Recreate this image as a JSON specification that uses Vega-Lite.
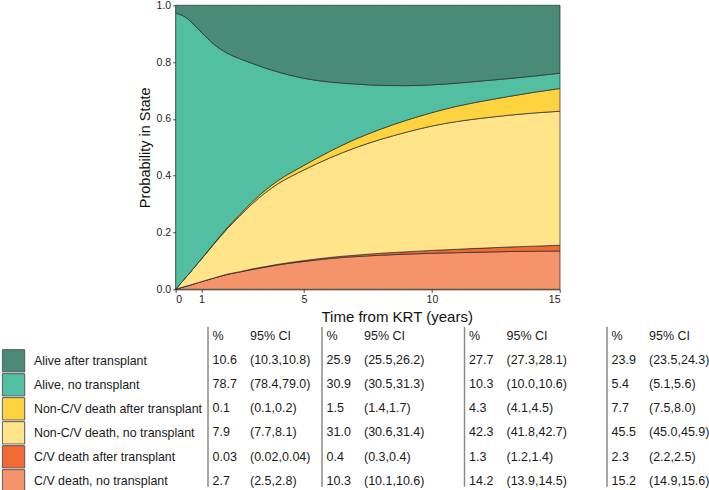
{
  "$schema": "https://vega.github.io/schema/vega-lite/v6.json",
  "width": 384.3,
  "height": 284,
  "autosize": {"type": "none"},
  "padding": {"left": 175.7, "top": 5.3, "right": 149, "bottom": 200.7},
  "background": "white",
  "config": {
    "view": {"stroke": null},
    "font": "Liberation Sans",
    "axis": {"labelFont": "Liberation Sans", "titleFont": "Liberation Sans", "grid": false},
    "legend": {"labelFont": "Liberation Sans"},
    "text": {"font": "Liberation Sans"}
  },
  "datasets": {
    "states": [
      {"k": 1, "state": "C/V death, no transplant"},
      {"k": 2, "state": "C/V death after transplant"},
      {"k": 3, "state": "Non-C/V death, no transplant"},
      {"k": 4, "state": "Non-C/V death after transplant"},
      {"k": 5, "state": "Alive, no transplant"},
      {"k": 6, "state": "Alive after transplant"}
    ],
    "curves": [
      {"t": 0, "k": 1, "p": 0}, {"t": 0, "k": 2, "p": 0}, {"t": 0, "k": 3, "p": 0}, {"t": 0, "k": 4, "p": 0}, {"t": 0, "k": 5, "p": 0.972}, {"t": 0, "k": 6, "p": 0.028},
      {"t": 0.25, "k": 1, "p": 0.007}, {"t": 0.25, "k": 2, "p": 0}, {"t": 0.25, "k": 3, "p": 0.02}, {"t": 0.25, "k": 4, "p": 0}, {"t": 0.25, "k": 5, "p": 0.938}, {"t": 0.25, "k": 6, "p": 0.035},
      {"t": 0.5, "k": 1, "p": 0.013}, {"t": 0.5, "k": 2, "p": 0}, {"t": 0.5, "k": 3, "p": 0.04}, {"t": 0.5, "k": 4, "p": 0}, {"t": 0.5, "k": 5, "p": 0.897}, {"t": 0.5, "k": 6, "p": 0.05},
      {"t": 0.75, "k": 1, "p": 0.02}, {"t": 0.75, "k": 2, "p": 0}, {"t": 0.75, "k": 3, "p": 0.06}, {"t": 0.75, "k": 4, "p": 0}, {"t": 0.75, "k": 5, "p": 0.848}, {"t": 0.75, "k": 6, "p": 0.072},
      {"t": 1, "k": 1, "p": 0.027}, {"t": 1, "k": 2, "p": 0}, {"t": 1, "k": 3, "p": 0.079}, {"t": 1, "k": 4, "p": 0.001}, {"t": 1, "k": 5, "p": 0.798}, {"t": 1, "k": 6, "p": 0.095},
      {"t": 1.5, "k": 1, "p": 0.04}, {"t": 1.5, "k": 2, "p": 0}, {"t": 1.5, "k": 3, "p": 0.12}, {"t": 1.5, "k": 4, "p": 0.002}, {"t": 1.5, "k": 5, "p": 0.7}, {"t": 1.5, "k": 6, "p": 0.138},
      {"t": 2, "k": 1, "p": 0.052}, {"t": 2, "k": 2, "p": 0.001}, {"t": 2, "k": 3, "p": 0.159}, {"t": 2, "k": 4, "p": 0.004}, {"t": 2, "k": 5, "p": 0.616}, {"t": 2, "k": 6, "p": 0.168},
      {"t": 2.5, "k": 1, "p": 0.061}, {"t": 2.5, "k": 2, "p": 0.001}, {"t": 2.5, "k": 3, "p": 0.196}, {"t": 2.5, "k": 4, "p": 0.005}, {"t": 2.5, "k": 5, "p": 0.549}, {"t": 2.5, "k": 6, "p": 0.188},
      {"t": 3, "k": 1, "p": 0.07}, {"t": 3, "k": 2, "p": 0.002}, {"t": 3, "k": 3, "p": 0.23}, {"t": 3, "k": 4, "p": 0.007}, {"t": 3, "k": 5, "p": 0.486}, {"t": 3, "k": 6, "p": 0.205},
      {"t": 3.5, "k": 1, "p": 0.078}, {"t": 3.5, "k": 2, "p": 0.002}, {"t": 3.5, "k": 3, "p": 0.26}, {"t": 3.5, "k": 4, "p": 0.009}, {"t": 3.5, "k": 5, "p": 0.43}, {"t": 3.5, "k": 6, "p": 0.221},
      {"t": 4, "k": 1, "p": 0.086}, {"t": 4, "k": 2, "p": 0.002}, {"t": 4, "k": 3, "p": 0.284}, {"t": 4, "k": 4, "p": 0.011}, {"t": 4, "k": 5, "p": 0.382}, {"t": 4, "k": 6, "p": 0.235},
      {"t": 5, "k": 1, "p": 0.098}, {"t": 5, "k": 2, "p": 0.003}, {"t": 5, "k": 3, "p": 0.319}, {"t": 5, "k": 4, "p": 0.016}, {"t": 5, "k": 5, "p": 0.307}, {"t": 5, "k": 6, "p": 0.257},
      {"t": 6, "k": 1, "p": 0.108}, {"t": 6, "k": 2, "p": 0.004}, {"t": 6, "k": 3, "p": 0.35}, {"t": 6, "k": 4, "p": 0.023}, {"t": 6, "k": 5, "p": 0.245}, {"t": 6, "k": 6, "p": 0.27},
      {"t": 7, "k": 1, "p": 0.115}, {"t": 7, "k": 2, "p": 0.005}, {"t": 7, "k": 3, "p": 0.378}, {"t": 7, "k": 4, "p": 0.03}, {"t": 7, "k": 5, "p": 0.195}, {"t": 7, "k": 6, "p": 0.277},
      {"t": 8, "k": 1, "p": 0.12}, {"t": 8, "k": 2, "p": 0.007}, {"t": 8, "k": 3, "p": 0.401}, {"t": 8, "k": 4, "p": 0.036}, {"t": 8, "k": 5, "p": 0.154}, {"t": 8, "k": 6, "p": 0.282},
      {"t": 9, "k": 1, "p": 0.124}, {"t": 9, "k": 2, "p": 0.008}, {"t": 9, "k": 3, "p": 0.421}, {"t": 9, "k": 4, "p": 0.042}, {"t": 9, "k": 5, "p": 0.122}, {"t": 9, "k": 6, "p": 0.283},
      {"t": 10, "k": 1, "p": 0.127}, {"t": 10, "k": 2, "p": 0.01}, {"t": 10, "k": 3, "p": 0.438}, {"t": 10, "k": 4, "p": 0.047}, {"t": 10, "k": 5, "p": 0.098}, {"t": 10, "k": 6, "p": 0.28},
      {"t": 11, "k": 1, "p": 0.129}, {"t": 11, "k": 2, "p": 0.012}, {"t": 11, "k": 3, "p": 0.45}, {"t": 11, "k": 4, "p": 0.054}, {"t": 11, "k": 5, "p": 0.081}, {"t": 11, "k": 6, "p": 0.274},
      {"t": 12, "k": 1, "p": 0.131}, {"t": 12, "k": 2, "p": 0.014}, {"t": 12, "k": 3, "p": 0.458}, {"t": 12, "k": 4, "p": 0.06}, {"t": 12, "k": 5, "p": 0.071}, {"t": 12, "k": 6, "p": 0.266},
      {"t": 13, "k": 1, "p": 0.133}, {"t": 13, "k": 2, "p": 0.016}, {"t": 13, "k": 3, "p": 0.464}, {"t": 13, "k": 4, "p": 0.066}, {"t": 13, "k": 5, "p": 0.063}, {"t": 13, "k": 6, "p": 0.258},
      {"t": 14, "k": 1, "p": 0.134}, {"t": 14, "k": 2, "p": 0.018}, {"t": 14, "k": 3, "p": 0.469}, {"t": 14, "k": 4, "p": 0.073}, {"t": 14, "k": 5, "p": 0.057}, {"t": 14, "k": 6, "p": 0.249},
      {"t": 15, "k": 1, "p": 0.135}, {"t": 15, "k": 2, "p": 0.02}, {"t": 15, "k": 3, "p": 0.472}, {"t": 15, "k": 4, "p": 0.08}, {"t": 15, "k": 5, "p": 0.054}, {"t": 15, "k": 6, "p": 0.239}
    ],
    "table": [
      {"row": "hdr", "year": 1, "pct": "%", "ci": "95% CI"},
      {"row": "hdr", "year": 5, "pct": "%", "ci": "95% CI"},
      {"row": "hdr", "year": 10, "pct": "%", "ci": "95% CI"},
      {"row": "hdr", "year": 15, "pct": "%", "ci": "95% CI"},
      {"row": "Alive after transplant", "year": 1, "pct": "10.6", "ci": "(10.3,10.8)"},
      {"row": "Alive after transplant", "year": 5, "pct": "25.9", "ci": "(25.5,26.2)"},
      {"row": "Alive after transplant", "year": 10, "pct": "27.7", "ci": "(27.3,28.1)"},
      {"row": "Alive after transplant", "year": 15, "pct": "23.9", "ci": "(23.5,24.3)"},
      {"row": "Alive, no transplant", "year": 1, "pct": "78.7", "ci": "(78.4,79.0)"},
      {"row": "Alive, no transplant", "year": 5, "pct": "30.9", "ci": "(30.5,31.3)"},
      {"row": "Alive, no transplant", "year": 10, "pct": "10.3", "ci": "(10.0,10.6)"},
      {"row": "Alive, no transplant", "year": 15, "pct": "5.4", "ci": "(5.1,5.6)"},
      {"row": "Non-C/V death after transplant", "year": 1, "pct": "0.1", "ci": "(0.1,0.2)"},
      {"row": "Non-C/V death after transplant", "year": 5, "pct": "1.5", "ci": "(1.4,1.7)"},
      {"row": "Non-C/V death after transplant", "year": 10, "pct": "4.3", "ci": "(4.1,4.5)"},
      {"row": "Non-C/V death after transplant", "year": 15, "pct": "7.7", "ci": "(7.5,8.0)"},
      {"row": "Non-C/V death, no transplant", "year": 1, "pct": "7.9", "ci": "(7.7,8.1)"},
      {"row": "Non-C/V death, no transplant", "year": 5, "pct": "31.0", "ci": "(30.6,31.4)"},
      {"row": "Non-C/V death, no transplant", "year": 10, "pct": "42.3", "ci": "(41.8,42.7)"},
      {"row": "Non-C/V death, no transplant", "year": 15, "pct": "45.5", "ci": "(45.0,45.9)"},
      {"row": "C/V death after transplant", "year": 1, "pct": "0.03", "ci": "(0.02,0.04)"},
      {"row": "C/V death after transplant", "year": 5, "pct": "0.4", "ci": "(0.3,0.4)"},
      {"row": "C/V death after transplant", "year": 10, "pct": "1.3", "ci": "(1.2,1.4)"},
      {"row": "C/V death after transplant", "year": 15, "pct": "2.3", "ci": "(2.2,2.5)"},
      {"row": "C/V death, no transplant", "year": 1, "pct": "2.7", "ci": "(2.5,2.8)"},
      {"row": "C/V death, no transplant", "year": 5, "pct": "10.3", "ci": "(10.1,10.6)"},
      {"row": "C/V death, no transplant", "year": 10, "pct": "14.2", "ci": "(13.9,14.5)"},
      {"row": "C/V death, no transplant", "year": 15, "pct": "15.2", "ci": "(14.9,15.6)"}
    ],
    "seps": [
      {"year": 1, "top": "hdr", "bot": "C/V death, no transplant"},
      {"year": 5, "top": "hdr", "bot": "C/V death, no transplant"},
      {"year": 10, "top": "hdr", "bot": "C/V death, no transplant"},
      {"year": 15, "top": "hdr", "bot": "C/V death, no transplant"}
    ]
  },
  "layer": [
    {
      "data": {"name": "curves"},
      "transform": [
        {"lookup": "k", "from": {"data": {"name": "states"}, "key": "k", "fields": ["state"]}}
      ],
      "mark": {"type": "area", "interpolate": "monotone", "stroke": "#2a2a2a", "strokeWidth": 0.7, "opacity": 1},
      "encoding": {
        "x": {
          "field": "t", "type": "quantitative",
          "scale": {"domain": [0, 15], "nice": false, "zero": false},
          "axis": {
            "values": [0, 1, 5, 10, 15], "format": "d",
            "title": "Time from KRT (years)", "titleX": 221,
            "labelFontSize": 10.5, "titleFontSize": 15, "titleFontWeight": "normal",
            "tickSize": 3, "labelPadding": 2, "titlePadding": 5,
            "domainColor": "#444", "tickColor": "#444", "labelColor": "#222", "titleColor": "#111"
          }
        },
        "y": {
          "field": "p", "type": "quantitative", "stack": "zero",
          "scale": {"domain": [0, 1], "nice": false},
          "axis": {
            "values": [0, 0.2, 0.4, 0.6, 0.8, 1], "format": ".1f",
            "title": "Probability in State",
            "labelFontSize": 10.5, "titleFontSize": 14.5, "titleFontWeight": "normal",
            "tickSize": 3, "labelPadding": 2, "titlePadding": 4,
            "domainColor": "#444", "tickColor": "#444", "labelColor": "#222", "titleColor": "#111"
          }
        },
        "color": {
          "field": "state", "type": "nominal",
          "scale": {
            "domain": ["Alive after transplant", "Alive, no transplant", "Non-C/V death after transplant", "Non-C/V death, no transplant", "C/V death after transplant", "C/V death, no transplant"],
            "range": ["#4a8b77", "#52bfa3", "#ffd23f", "#ffe48a", "#f26a33", "#f5936a"]
          },
          "legend": {
            "orient": "none", "legendX": -174.2, "legendY": 343.7, "title": null,
            "symbolType": "square", "symbolSize": 500, "symbolStrokeColor": "#555", "symbolStrokeWidth": 1, "symbolOpacity": 1,
            "labelFontSize": 12.4, "labelOffset": 8.5, "labelLimit": 300, "rowPadding": 0, "clipHeight": 23.7,
            "labelColor": "#1a1a1a", "padding": 0, "offset": 0
          }
        },
        "order": {"field": "k", "type": "quantitative", "sort": "ascending"}
      }
    },
    {
      "layer": [
        {
          "data": {"name": "seps"},
          "mark": {"type": "rule", "stroke": "#8a8a8a", "strokeWidth": 1.5, "yOffset": -9, "y2Offset": 6},
          "encoding": {
            "x": {"field": "year", "type": "quantitative", "scale": {"domain": [1, 15], "range": [32.3, 431.3], "nice": false, "zero": false}, "axis": null},
            "y": {"field": "top", "type": "nominal", "scale": {"type": "band", "domain": ["hdr", "Alive after transplant", "Alive, no transplant", "Non-C/V death after transplant", "Non-C/V death, no transplant", "C/V death after transplant", "C/V death, no transplant"], "range": [318.5, 487.5], "paddingInner": 0, "paddingOuter": 0}, "axis": null},
            "y2": {"field": "bot"}
          }
        },
        {
          "data": {"name": "table"},
          "mark": {"type": "text", "align": "left", "baseline": "middle", "dx": 4.5, "fontSize": 12.5, "color": "#1a1a1a"},
          "encoding": {
            "x": {"field": "year", "type": "quantitative"},
            "y": {"field": "row", "type": "nominal"},
            "text": {"field": "pct"}
          }
        },
        {
          "data": {"name": "table"},
          "mark": {"type": "text", "align": "left", "baseline": "middle", "dx": 42, "fontSize": 12.5, "color": "#1a1a1a"},
          "encoding": {
            "x": {"field": "year", "type": "quantitative"},
            "y": {"field": "row", "type": "nominal"},
            "text": {"field": "ci"}
          }
        }
      ]
    }
  ],
  "resolve": {"scale": {"x": "independent", "y": "independent"}}
}
